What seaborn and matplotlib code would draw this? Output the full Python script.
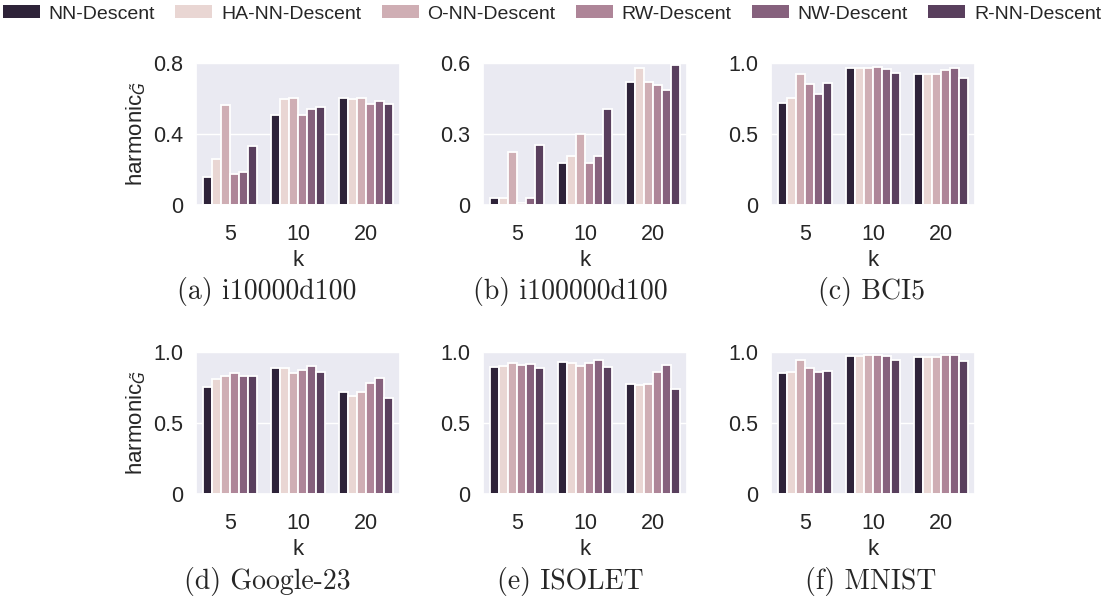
import numpy as np
import pandas as pd
import matplotlib
matplotlib.use("Agg")
import matplotlib.pyplot as plt
import seaborn as sns

# ---- data -------------------------------------------------------------
methods = ["NN-Descent", "HA-NN-Descent", "O-NN-Descent",
           "RW-Descent", "NW-Descent", "R-NN-Descent"]
k_values = ["5", "10", "20"]
method_colors = ["#2e1f3d", "#ecd3d0", "#d5a8b0", "#b57e98", "#8c5b80", "#5c3a62"]

# harmonic scores, one row per method, columns follow k_values
i10000d100 = [
    [0.160, 0.506, 0.603],
    [0.257, 0.596, 0.596],
    [0.562, 0.605, 0.603],
    [0.174, 0.506, 0.571],
    [0.187, 0.540, 0.588],
    [0.332, 0.551, 0.568],
]
i100000d100 = [
    [0.031, 0.176, 0.520],
    [0.031, 0.209, 0.579],
    [0.225, 0.299, 0.520],
    [0.010, 0.176, 0.509],
    [0.031, 0.209, 0.485],
    [0.252, 0.407, 0.593],
]
bci5 = [
    [0.721, 0.965, 0.925],
    [0.754, 0.965, 0.925],
    [0.925, 0.965, 0.925],
    [0.852, 0.972, 0.953],
    [0.782, 0.958, 0.965],
    [0.862, 0.932, 0.895],
]
google23 = [
    [0.756, 0.890, 0.721],
    [0.813, 0.885, 0.689],
    [0.829, 0.850, 0.721],
    [0.850, 0.876, 0.782],
    [0.834, 0.902, 0.815],
    [0.831, 0.859, 0.677],
]
isolet = [
    [0.892, 0.930, 0.775],
    [0.902, 0.925, 0.768],
    [0.920, 0.902, 0.775],
    [0.909, 0.920, 0.859],
    [0.916, 0.946, 0.906],
    [0.888, 0.895, 0.742],
]
mnist = [
    [0.850, 0.972, 0.965],
    [0.857, 0.972, 0.967],
    [0.946, 0.977, 0.967],
    [0.885, 0.977, 0.977],
    [0.859, 0.972, 0.977],
    [0.864, 0.941, 0.934],
]

captions = ["(a) i10000d100", "(b) i100000d100", "(c) BCI5",
            "(d) Google-23", "(e) ISOLET", "(f) MNIST"]
tables = [i10000d100, i100000d100, bci5, google23, isolet, mnist]
y_ticks = [[0, 0.4, 0.8], [0, 0.3, 0.6], [0, 0.5, 1.0],
           [0, 0.5, 1.0], [0, 0.5, 1.0], [0, 0.5, 1.0]]


def to_long(table):
    rows = []
    for m, vals in zip(methods, table):
        for k, v in zip(k_values, vals):
            rows.append({"k": k, "method": m, "value": v})
    return pd.DataFrame(rows)


# ---- style ------------------------------------------------------------
sns.set_theme(style="darkgrid")
plt.rcParams["font.family"] = ["Liberation Sans", "DejaVu Sans"]
plt.rcParams["axes.edgecolor"] = "white"

W, H = 1105, 597
fig = plt.figure(figsize=(W / 100, H / 100), dpi=100)

col_left = [196, 483, 771]
row_top = [63, 352]
ax_w, ax_h = 204, 142
caption_x = [267, 570, 871]
caption_y = [292, 581]

palette = dict(zip(methods, method_colors))
handles, labels = None, None

for i, (table, cap, ticks) in enumerate(zip(tables, captions, y_ticks)):
    r, c = divmod(i, 3)
    left = col_left[c] / W
    bottom = 1 - (row_top[r] + ax_h) / H
    ax = fig.add_axes([left, bottom, ax_w / W, ax_h / H])
    df = to_long(table)
    sns.barplot(data=df, x="k", y="value", hue="method", order=k_values,
                hue_order=methods, palette=palette, edgecolor="white",
                linewidth=1.3, ax=ax, legend=(i == 0))
    if i == 0:
        leg = ax.get_legend()
        handles = leg.legend_handles
        labels = [t.get_text() for t in leg.texts]
        leg.remove()
    ax.set_ylim(0, ticks[-1])
    ax.set_yticks(ticks)
    ax.set_yticklabels(["0" if t == 0 else f"{t:.1f}" for t in ticks])
    ax.tick_params(axis="both", labelsize=15.5, length=0)
    ax.tick_params(axis="y", pad=9)
    ax.tick_params(axis="x", pad=14)
    ax.set_xlabel("k", fontsize=16, labelpad=3)
    if c == 0:
        ax.set_ylabel(r"harmonic$_{\tilde{G}}$", fontsize=16, labelpad=4)
    else:
        ax.set_ylabel("")
    ax.grid(axis="x", visible=False)
    fig.text(caption_x[c] / W, 1 - caption_y[r] / H, cap, family="cmr10",
             fontsize=20, ha="center", va="center")

for h in handles:
    h.set_edgecolor("none")
fig.legend(handles, labels, loc="center", bbox_to_anchor=(552 / W, 1 - 14 / H),
           ncol=6, frameon=False, fontsize=14, handlelength=1.9,
           handleheight=0.62, handletextpad=0.45, columnspacing=1.05,
           borderaxespad=0, borderpad=0.2)

fig.savefig("out.png", dpi=100)
